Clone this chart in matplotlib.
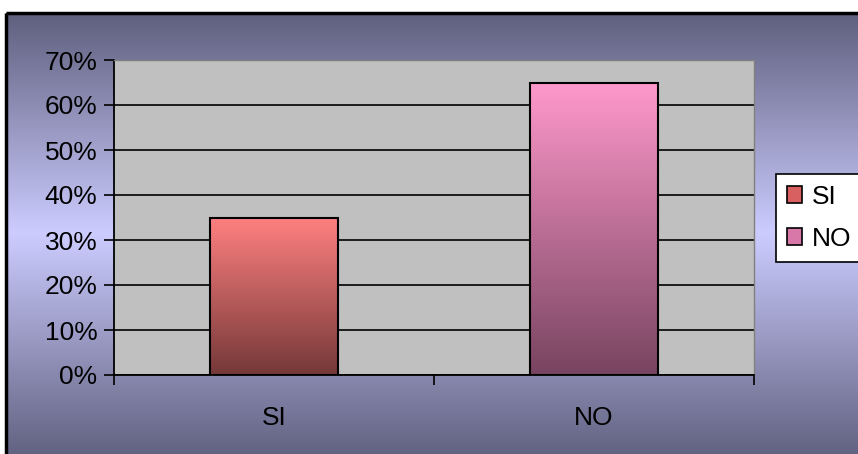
import matplotlib
matplotlib.use("Agg")
import matplotlib.pyplot as plt
import numpy as np
from matplotlib.colors import LinearSegmentedColormap
from matplotlib.patches import Patch, Rectangle

categories = ["SI", "NO"]
values = [0.35, 0.65]
top_colors = ["#FF8080", "#FF99CC"]
bottom_colors = ["#753838", "#784460"]
yticks = [0, 0.1, 0.2, 0.3, 0.4, 0.5, 0.6, 0.7]
ytick_labels = ["0%", "10%", "20%", "30%", "40%", "50%", "60%", "70%"]

plt.rcParams["font.family"] = ["Liberation Sans", "DejaVu Sans"]
W, H = 858, 454
fig = plt.figure(figsize=(W / 100, H / 100), dpi=100)
fig.patch.set_facecolor("white")

# background gradient of chart area (dark - light - dark)
bg = fig.add_axes([0, 0, 1, 1], zorder=0)
bg.set_xlim(0, W)
bg.set_ylim(H, 0)
bg.axis("off")
bg_cmap = LinearSegmentedColormap.from_list(
    "bg", [(0, "#5F5F7E"), (0.49, "#CCCCFF"), (1, "#5F5F7E")])
grad = np.linspace(0, 1, 256).reshape(-1, 1)
bg.imshow(grad, cmap=bg_cmap, extent=[6, W + 5, H + 8, 13], aspect="auto")
bg.add_patch(Rectangle((6, 13), W, H, fill=False, edgecolor="black", lw=2.5))

ax = fig.add_axes([114 / W, 1 - 375 / H, 640 / W, 315 / H], zorder=1)
ax.set_facecolor("#C0C0C0")
x = np.arange(len(categories))
bars = ax.bar(x, values, width=0.4, color="none", edgecolor="black",
              linewidth=1.5, zorder=3)
for bar, c0, c1 in zip(bars, top_colors, bottom_colors):
    cmap = LinearSegmentedColormap.from_list("g", [c1, c0])
    x0, y0 = bar.get_x(), bar.get_y()
    im = ax.imshow(grad, cmap=cmap, origin="lower", aspect="auto",
                   extent=[x0, x0 + bar.get_width(), y0, y0 + bar.get_height()],
                   zorder=2)
    im.set_clip_path(bar)

ax.set_xlim(-0.5, 1.5)
ax.set_ylim(0, 0.7)
ax.set_yticks(yticks)
ax.set_yticklabels(ytick_labels)
ax.set_xticks(x)
ax.set_xticklabels(categories)
ax.set_xticks([-0.5, 0.5, 1.5], minor=True)
ax.tick_params(axis="x", which="major", length=0, pad=22, labelsize=19)
ax.tick_params(axis="x", which="minor", length=7, width=1.2, direction="out")
ax.tick_params(axis="y", length=7, width=1.2, direction="out", pad=5, labelsize=19)
ax.yaxis.grid(True, color="black", lw=1.2)
ax.set_axisbelow(True)
for s in ["top", "right"]:
    ax.spines[s].set_color("#808080")
    ax.spines[s].set_linewidth(1)
for s in ["left", "bottom"]:
    ax.spines[s].set_linewidth(1.3)

handles = [Patch(facecolor=c, edgecolor="black", lw=1.2)
           for c in ["#D86060", "#D878A8"]]
leg = fig.legend(handles, categories, loc="upper left",
                 bbox_to_anchor=(776 / W, 1 - 174 / H), fontsize=19,
                 frameon=True, fancybox=False, edgecolor="black",
                 facecolor="white", framealpha=1,
                 handlelength=0.6, handleheight=0.6, handletextpad=0.35,
                 borderpad=0.4, labelspacing=0.7, borderaxespad=0)
leg.get_frame().set_linewidth(1.2)
leg.set_zorder(5)

fig.savefig("out.png", dpi=100)
